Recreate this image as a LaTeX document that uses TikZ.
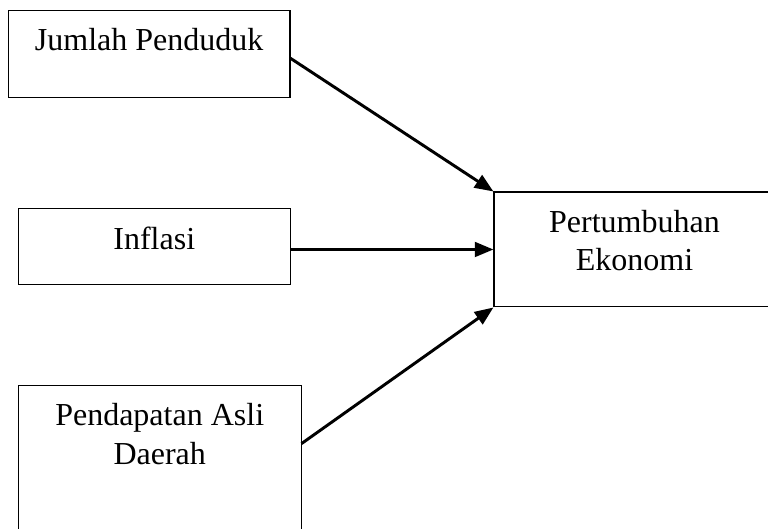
\documentclass[tikz,border=0pt]{standalone}
\usepackage{fontspec}
\setmainfont{Liberation Serif}
\usetikzlibrary{positioning}
\usetikzlibrary{arrows.meta}

\tikzset{
  varbox/.style={draw, line width=0.4pt, inner sep=0pt},
  varlbl/.style={inner sep=0pt, align=center, font=\fontsize{12pt}{14.4pt}\selectfont},
  edgearr/.style={line width=1.1pt, -{Triangle[length=7pt,width=5.5pt]}}
}

\begin{document}
\begin{tikzpicture}[x=0.375pt, y=0.375pt]

    \useasboundingbox (0,0) rectangle (768,529) ; %
    \clip (0,0) rectangle (768,529) ; %

    \node[varbox, minimum width=105.6pt, minimum height=32.6pt] (jumlah) at (149.2,475.2) {} ; %
    \node[varbox, minimum width=102pt, minimum height=28.5pt] (inflasi) at (154.3,282.3) {} ; %
    \node[varbox, minimum width=106pt, minimum height=59.7pt] (pad) at (159.7,63.7) {} ; %
    \node[varbox, minimum width=105.4pt, minimum height=43.1pt] (growth) at (634.5,279.5) {} ; %

    \node[varlbl, below=6.75pt of jumlah.north] (jumlah_txt) {Jumlah Penduduk} ; %
    \node[varlbl, below=6.75pt of inflasi.north] (inflasi_txt) {Inflasi} ; %
    \node[varlbl, below=6.75pt of pad.north] (pad_txt) {Pendapatan Asli\\Daerah} ; %
    \node[varlbl, below=6.75pt of growth.north] (growth_txt) {Pertumbuhan\\Ekonomi} ; %

    \draw[edgearr] ([yshift=-1.7pt]jumlah.east) -- (growth.north west) ; %
    \draw[edgearr] (inflasi.east |- growth.west) -- (growth.west) ; %
    \draw[edgearr] ([yshift=-21.9pt]pad.north east) -- (growth.south west) ; %

\end{tikzpicture}
\end{document}
